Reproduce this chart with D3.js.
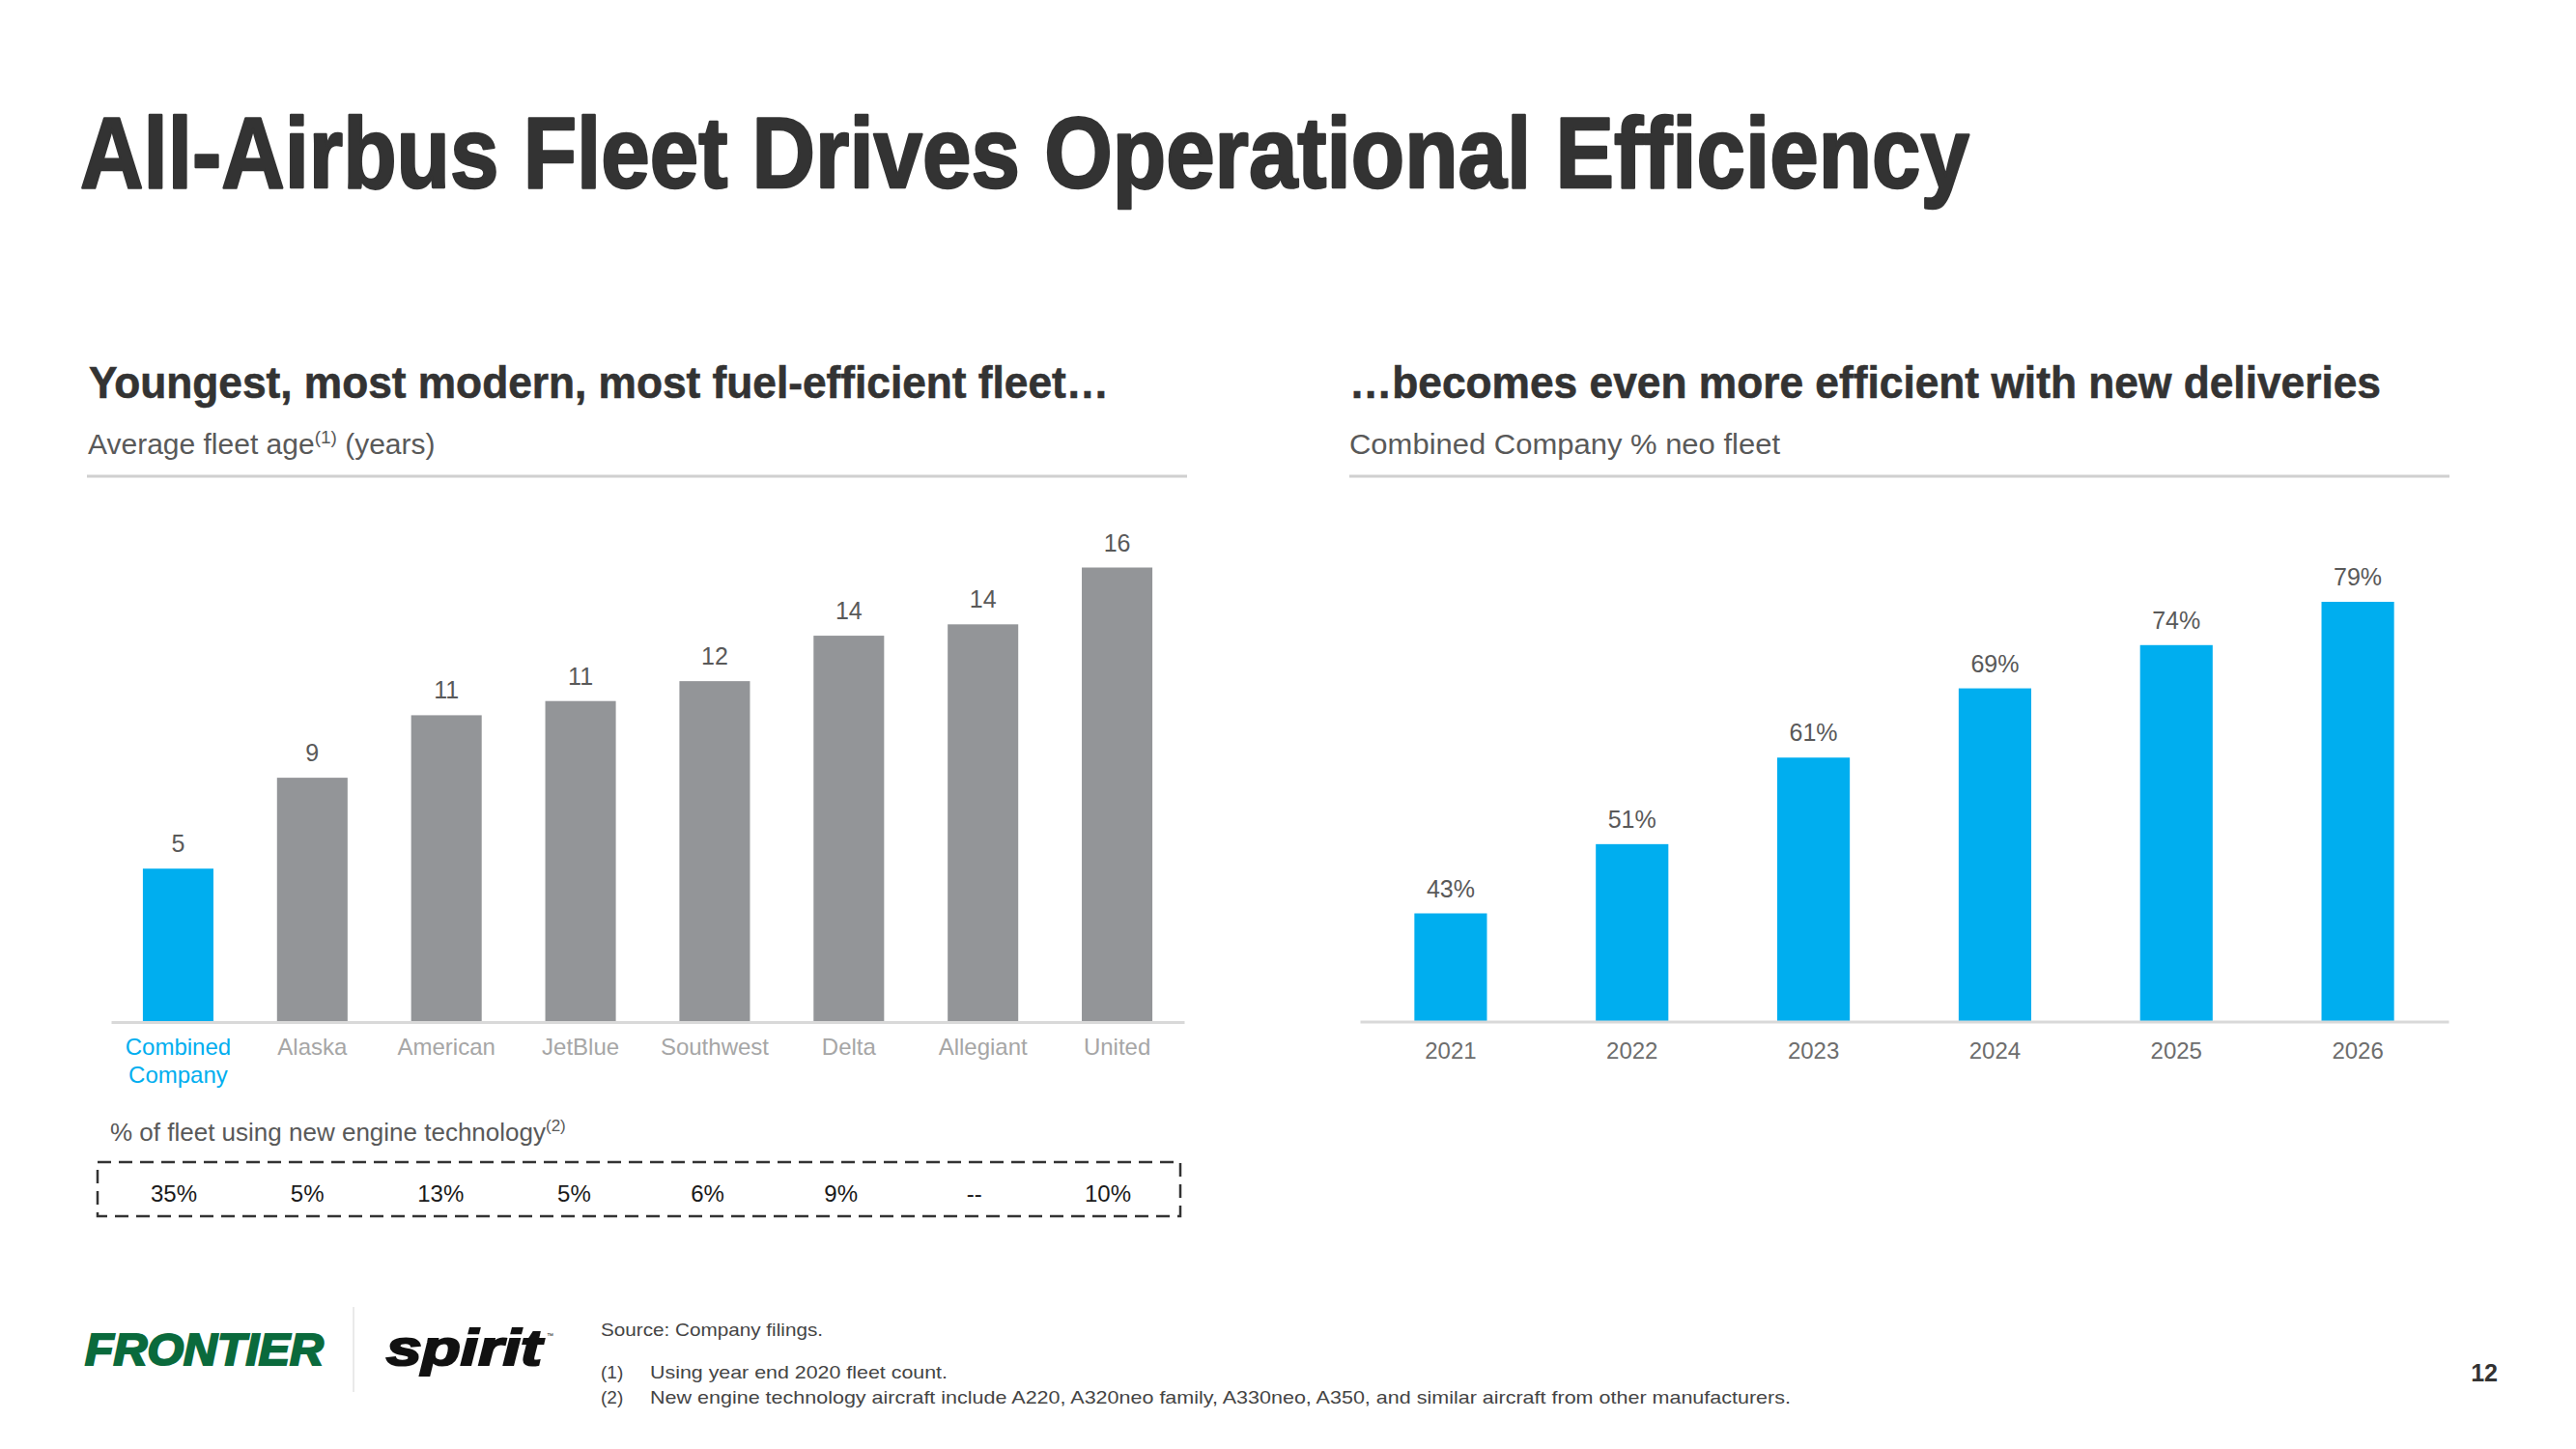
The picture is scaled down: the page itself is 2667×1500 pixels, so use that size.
<!DOCTYPE html>
<html>
<head>
<meta charset="utf-8">
<script src="https://cdn.jsdelivr.net/npm/d3@7"></script>
<style>
  html, body { margin: 0; padding: 0; background: #ffffff; }
  svg { display: block; font-family: "Liberation Sans", Arial, Helvetica, sans-serif; }
</style>
</head>
<body>
<svg id="chart" width="2667" height="1500"></svg>
<script>
// ---------- DATA ----------
const airlines = ["Combined Company", "Alaska", "American", "JetBlue", "Southwest", "Delta", "Allegiant", "United"];
const fleetAge = [5.4, 8.6, 10.8, 11.3, 12.0, 13.6, 14.0, 16.0];
const newEngineShare = ["35%", "5%", "13%", "5%", "6%", "9%", "--", "10%"];
const years = ["2021", "2022", "2023", "2024", "2025", "2026"];
const neoShare = [43, 51, 61, 69, 74, 79];

// ---------- STYLE ----------
const BLUE = "#00AEEF", GREY_BAR = "#939598", DARK = "#333333";
const svg = d3.select("#chart");
svg.append("rect").attr("width", 2667).attr("height", 1500).attr("fill", "#fff");

// Title
svg.append("text").attr("x", 83).attr("y", 194)
  .attr("font-size", 104).attr("font-weight", "bold").attr("fill", DARK)
  .attr("stroke", DARK).attr("stroke-width", 2.5).attr("stroke-linejoin", "round")
  .attr("textLength", 1956).attr("lengthAdjust", "spacingAndGlyphs")
  .text("All-Airbus Fleet Drives Operational Efficiency");

// Section headers
function header(x, y, len, txt) {
  svg.append("text").attr("x", x).attr("y", y)
    .attr("font-size", 46).attr("font-weight", "bold").attr("fill", DARK)
    .attr("stroke", DARK).attr("stroke-width", 0.6)
    .attr("textLength", len).attr("lengthAdjust", "spacingAndGlyphs").text(txt);
}
header(92, 412, 1056, "Youngest, most modern, most fuel-efficient fleet…");
header(1397, 412, 1068, "…becomes even more efficient with new deliveries");

// Sub-headers
const sub1 = svg.append("text").attr("x", 91).attr("y", 470)
  .attr("font-size", 30).attr("fill", "#595959");
sub1.append("tspan").text("Average fleet age");
sub1.append("tspan").attr("font-size", 19).attr("dy", -11).text("(1)");
sub1.append("tspan").attr("dy", 11).text(" (years)");

svg.append("text").attr("x", 1397).attr("y", 470)
  .attr("font-size", 30).attr("fill", "#595959")
  .attr("textLength", 446).attr("lengthAdjust", "spacingAndGlyphs")
  .text("Combined Company % neo fleet");

// Header rules
svg.append("line").attr("x1", 90).attr("x2", 1229).attr("y1", 493).attr("y2", 493)
  .attr("stroke", "#d0d0d0").attr("stroke-width", 3);
svg.append("line").attr("x1", 1397).attr("x2", 2536).attr("y1", 493).attr("y2", 493)
  .attr("stroke", "#d0d0d0").attr("stroke-width", 3);

// ---------- LEFT CHART ----------
const xL = d3.scaleBand().domain(airlines).range([115, 1226]).paddingInner(0.474).paddingOuter(0.237);
const yL = d3.scaleLinear().domain([0, 16]).range([1058, 587.5]);

svg.append("g").selectAll("rect").data(airlines).join("rect")
  .attr("x", d => xL(d)).attr("width", xL.bandwidth())
  .attr("y", (d, i) => yL(fleetAge[i]))
  .attr("height", (d, i) => yL(0) - yL(fleetAge[i]))
  .attr("fill", (d, i) => i === 0 ? BLUE : GREY_BAR);

svg.append("g").selectAll("text").data(airlines).join("text")
  .attr("x", d => xL(d) + xL.bandwidth() / 2)
  .attr("y", (d, i) => yL(fleetAge[i]) - 17)
  .attr("text-anchor", "middle").attr("font-size", 25).attr("fill", "#595959")
  .text((d, i) => d3.format(".0f")(fleetAge[i]));

const axL = svg.append("g").attr("transform", "translate(0,1058)")
  .call(d3.axisBottom(xL).tickSize(0).tickSizeOuter(0));
axL.select(".domain").attr("stroke", "#d9d9d9").attr("stroke-width", 3);
axL.selectAll(".tick text").each(function(d, i) {
  const t = d3.select(this);
  t.text(null).attr("y", 0).attr("dy", null)
    .attr("font-size", 24).attr("font-family", "Liberation Sans, Arial, sans-serif")
    .attr("fill", i === 0 ? BLUE : "#a6a6a6");
  const words = i === 0 ? d.split(" ") : [d];
  words.forEach((w, k) => t.append("tspan").attr("x", 0).attr("y", 34 + k * 29).text(w));
});

// New engine technology row
const sub2 = svg.append("text").attr("x", 114).attr("y", 1181)
  .attr("font-size", 26).attr("fill", "#595959");
sub2.append("tspan").text("% of fleet using new engine technology");
sub2.append("tspan").attr("font-size", 17).attr("dy", -10).text("(2)");

svg.append("rect").attr("x", 101).attr("y", 1203).attr("width", 1121).attr("height", 56)
  .attr("fill", "none").attr("stroke", "#333").attr("stroke-width", 2.5)
  .attr("stroke-dasharray", "14,8");

const xE = d3.scalePoint().domain(airlines).range([180, 1147]);
svg.append("g").selectAll("text").data(airlines).join("text")
  .attr("x", d => xE(d)).attr("y", 1244)
  .attr("text-anchor", "middle").attr("font-size", 24).attr("fill", "#1a1a1a")
  .text((d, i) => newEngineShare[i]);

// ---------- RIGHT CHART ----------
const xR = d3.scaleBand().domain(years).range([1408, 2535]).paddingInner(0.6).paddingOuter(0.3);
const yR = d3.scaleLinear().domain([30.5, 79]).range([1057.5, 623]);

svg.append("g").selectAll("rect").data(years).join("rect")
  .attr("x", d => xR(d)).attr("width", xR.bandwidth())
  .attr("y", (d, i) => yR(neoShare[i]))
  .attr("height", (d, i) => yR.range()[0] - yR(neoShare[i]))
  .attr("fill", BLUE);

svg.append("g").selectAll("text").data(years).join("text")
  .attr("x", d => xR(d) + xR.bandwidth() / 2)
  .attr("y", (d, i) => yR(neoShare[i]) - 17)
  .attr("text-anchor", "middle").attr("font-size", 25).attr("fill", "#595959")
  .text((d, i) => neoShare[i] + "%");

const axR = svg.append("g").attr("transform", "translate(0,1057.5)")
  .call(d3.axisBottom(xR).tickSize(0).tickSizeOuter(0));
axR.select(".domain").attr("stroke", "#d9d9d9").attr("stroke-width", 3);
axR.selectAll(".tick text").attr("y", 38).attr("dy", null)
  .attr("font-size", 24).attr("font-family", "Liberation Sans, Arial, sans-serif")
  .attr("fill", "#6d6d6d");

// ---------- FOOTER ----------
svg.append("text").attr("x", 88).attr("y", 1413)
  .attr("font-size", 47).attr("font-weight", "bold").attr("font-style", "italic")
  .attr("fill", "#0a6a3c").attr("stroke", "#0a6a3c").attr("stroke-width", 2.2)
  .attr("textLength", 247).attr("lengthAdjust", "spacingAndGlyphs")
  .text("FRONTIER");
svg.append("line").attr("x1", 366).attr("x2", 366).attr("y1", 1353).attr("y2", 1441)
  .attr("stroke", "#e3e3e3").attr("stroke-width", 1.5);
svg.append("text").attr("x", 400).attr("y", 1413)
  .attr("font-size", 52).attr("font-weight", "bold").attr("font-style", "italic")
  .attr("fill", "#111").attr("stroke", "#111").attr("stroke-width", 2.2)
  .attr("textLength", 161).attr("lengthAdjust", "spacingAndGlyphs")
  .text("spirit");
svg.append("text").attr("x", 566).attr("y", 1385).attr("font-size", 7).attr("fill", "#111").text("™");

const foot = { size: 19, color: "#444444" };
svg.append("text").attr("x", 622).attr("y", 1383).attr("font-size", foot.size).attr("fill", foot.color)
  .attr("textLength", 230).attr("lengthAdjust", "spacingAndGlyphs").text("Source: Company filings.");
svg.append("text").attr("x", 622).attr("y", 1427).attr("font-size", foot.size).attr("fill", foot.color).text("(1)");
svg.append("text").attr("x", 673).attr("y", 1427).attr("font-size", foot.size).attr("fill", foot.color)
  .attr("textLength", 308).attr("lengthAdjust", "spacingAndGlyphs").text("Using year end 2020 fleet count.");
svg.append("text").attr("x", 622).attr("y", 1453).attr("font-size", foot.size).attr("fill", foot.color).text("(2)");
svg.append("text").attr("x", 673).attr("y", 1453).attr("font-size", foot.size).attr("fill", foot.color)
  .attr("textLength", 1181).attr("lengthAdjust", "spacingAndGlyphs")
  .text("New engine technology aircraft include A220, A320neo family, A330neo, A350, and similar aircraft from other manufacturers.");

svg.append("text").attr("x", 2586).attr("y", 1430).attr("text-anchor", "end")
  .attr("font-size", 25).attr("font-weight", "bold").attr("fill", DARK).text("12");
</script>
</body>
</html>
